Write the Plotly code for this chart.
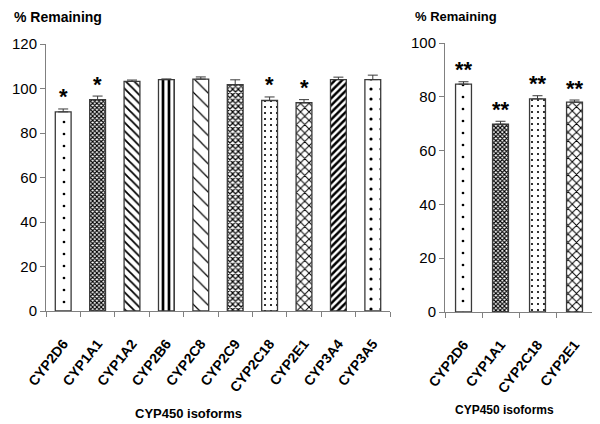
import plotly.graph_objects as go

# ---- data ----
left_categories = ["CYP2D6", "CYP1A1", "CYP1A2", "CYP2B6", "CYP2C8",
                   "CYP2C9", "CYP2C18", "CYP2E1", "CYP3A4", "CYP3A5"]
left_values = [89.5, 95.0, 103.2, 104.0, 104.2, 101.7, 94.6, 93.6, 104.0, 104.0]
left_errors = [1.3, 1.6, 0.6, 0.3, 1.0, 2.2, 1.6, 1.4, 1.1, 2.0]
left_sig = ["*", "*", "", "", "", "", "*", "*", "", ""]

right_categories = ["CYP2D6", "CYP1A1", "CYP2C18", "CYP2E1"]
right_values = [84.7, 69.8, 79.2, 78.0]
right_errors = [0.9, 1.1, 1.2, 0.8]
right_sig = ["**", "**", "**", "**"]

# ---- styles (pattern per isoform) ----
pattern_style = {
    "CYP2D6": (".", 12, 0.04),
    "CYP1A1": ("x", 3, 0.6),
    "CYP1A2": ("\\", 6, 0.3),
    "CYP2B6": ("|", 6, 0.45),
    "CYP2C8": ("\\", 10, 0.12),
    "CYP2C9": ("x", 4, 0.5),
    "CYP2C18": (".", 6, 0.1),
    "CYP2E1": ("x", 6, 0.3),
    "CYP3A4": ("/", 5, 0.5),
    "CYP3A5": (".", 10, 0.08),
}

FONT = "Liberation Sans, Arial, sans-serif"
EDGE = "#3a3a3a"
AXIS = "#808080"

# page is drawn with an 8px body margin; lay out in reference pixels
OFF = 8
W, H = 600 - OFF, 424 - OFF


def fx(px):
    return (px - OFF) / W


def fy(py):
    return 1 - (py - OFF) / H


def pat(cats):
    return dict(
        shape=[pattern_style[c][0] for c in cats],
        size=[pattern_style[c][1] for c in cats],
        solidity=[pattern_style[c][2] for c in cats],
        fgcolor="black", bgcolor="white", fillmode="replace",
    )


fig = go.Figure()
fig.add_trace(go.Bar(
    x=left_categories, y=left_values, xaxis="x", yaxis="y",
    marker=dict(color="white", line=dict(color=EDGE, width=1.3),
                pattern=pat(left_categories)),
    error_y=dict(type="data", symmetric=False, array=left_errors,
                 arrayminus=[0] * len(left_errors), color=EDGE,
                 thickness=1, width=5),
    showlegend=False,
))
fig.add_trace(go.Bar(
    x=right_categories, y=right_values, xaxis="x2", yaxis="y2",
    marker=dict(color="white", line=dict(color=EDGE, width=1.3),
                pattern=pat(right_categories)),
    error_y=dict(type="data", symmetric=False, array=right_errors,
                 arrayminus=[0] * len(right_errors), color=EDGE,
                 thickness=1, width=5),
    showlegend=False,
))

annotations = []
for c, v, e, s in zip(left_categories, left_values, left_errors, left_sig):
    if s:
        annotations.append(dict(x=c, y=v + e, xref="x", yref="y", text="<b>" + s + "</b>",
                                showarrow=False, yanchor="middle", yshift=12,
                                font=dict(family=FONT, size=22, color="black")))
for c, v, e, s in zip(right_categories, right_values, right_errors, right_sig):
    if s:
        annotations.append(dict(x=c, y=v + e, xref="x2", yref="y2", text="<b>" + s + "</b>",
                                showarrow=False, yanchor="middle", yshift=12,
                                font=dict(family=FONT, size=22, color="black")))

annotations += [
    dict(x=fx(13), y=1, xref="paper", yref="paper", text="<b>% Remaining</b>",
         showarrow=False, xanchor="left", yanchor="top", borderpad=0,
         font=dict(family=FONT, size=14, color="black")),
    dict(x=fx(414), y=1, xref="paper", yref="paper", text="<b>% Remaining</b>",
         showarrow=False, xanchor="left", yanchor="top", borderpad=0,
         font=dict(family=FONT, size=13, color="black")),
    dict(x=fx(188), y=fy(413), xref="paper", yref="paper", text="<b>CYP450 isoforms</b>",
         showarrow=False, xanchor="center", yanchor="middle",
         font=dict(family=FONT, size=13, color="black")),
    dict(x=fx(505), y=fy(410), xref="paper", yref="paper", text="<b>CYP450 isoforms</b>",
         showarrow=False, xanchor="center", yanchor="middle",
         font=dict(family=FONT, size=12, color="black")),
]

xaxis_common = dict(type="category", tickson="boundaries", ticks="outside", ticklen=5,
                    tickcolor=AXIS, showline=True, linecolor=AXIS, linewidth=1,
                    showgrid=False, zeroline=False, tickangle=-52, automargin=False,
                    ticklabelstandoff=18,
                    tickfont=dict(family=FONT, size=14, color="black"))
yaxis_common = dict(ticks="outside", ticklen=5, tickcolor=AXIS, showline=True,
                    linecolor=AXIS, linewidth=1, showgrid=False, zeroline=False,
                    dtick=20, automargin=False,
                    tickfont=dict(family=FONT, size=15, color="black"))

fig.update_layout(
    template="none",
    width=W, height=H,
    margin=dict(l=0, r=0, t=0, b=0, pad=0, autoexpand=False),
    paper_bgcolor="white", plot_bgcolor="white",
    font=dict(family=FONT, color="black"),
    xaxis=dict(**xaxis_common, domain=[fx(46), fx(390)], anchor="y",
               tickprefix="<b>", ticksuffix="</b>"),
    yaxis=dict(**yaxis_common, range=[0, 120], domain=[fy(311), fy(44)], anchor="x"),
    xaxis2=dict(**xaxis_common, domain=[fx(445), fx(593)], anchor="y2",
                tickprefix="<b>", ticksuffix="</b>"),
    yaxis2=dict(**yaxis_common, range=[0, 100], domain=[fy(312), fy(43)], anchor="x2"),
    annotations=annotations,
)
fig.update_traces(width=0.46, selector=dict(xaxis="x"))
fig.update_traces(width=0.43, selector=dict(xaxis="x2"))

fig.write_html("out.html")
